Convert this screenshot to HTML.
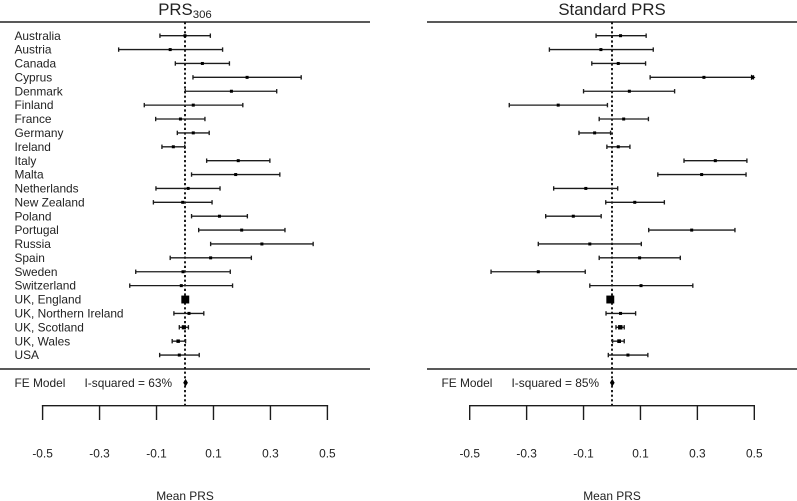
<!DOCTYPE html>
<html lang="en">
<head>
<meta charset="utf-8">
<title>Forest plots of mean PRS</title>
<style>
html,body{margin:0;padding:0;background:#fff;}
body{width:797px;height:501px;overflow:hidden;}
svg{display:block;filter:blur(0.3px);}
text{font-family:"Liberation Sans",sans-serif;fill:#222;}
</style>
</head>
<body>
<svg id="chart" width="797" height="501" viewBox="0 0 797 501" xmlns="http://www.w3.org/2000/svg">
  <rect width="797" height="501" fill="#fff"/>
</svg>
<script>
const countries = ["Australia","Austria","Canada","Cyprus","Denmark","Finland","France","Germany","Ireland","Italy","Malta","Netherlands","New Zealand","Poland","Portugal","Russia","Spain","Sweden","Switzerland","UK, England","UK, Northern Ireland","UK, Scotland","UK, Wales","USA"];
const tickValues = [-0.5,-0.3,-0.1,0.1,0.3,0.5];
const tickLabels = ["-0.5","-0.3","-0.1","0.1","0.3","0.5"];

const prs306Est = [0,-0.052,0.061,0.218,0.163,0.029,-0.016,0.029,-0.041,0.187,0.178,0.011,-0.008,0.121,0.199,0.27,0.09,-0.007,-0.013,0.001,0.014,-0.004,-0.024,-0.02];
const prs306Lo  = [-0.088,-0.233,-0.034,0.028,0.001,-0.143,-0.103,-0.027,-0.081,0.076,0.023,-0.102,-0.111,0.023,0.048,0.09,-0.052,-0.173,-0.194,-0.0035,-0.039,-0.02,-0.045,-0.089];
const prs306Hi  = [0.089,0.132,0.156,0.408,0.322,0.203,0.07,0.085,-0.001,0.298,0.333,0.123,0.095,0.219,0.351,0.45,0.233,0.159,0.167,0.0055,0.066,0.012,0.002,0.05];
const prs306Fe  = [0.002,-0.005,0.009];

const standardEst = [0.03,-0.039,0.022,0.323,0.061,-0.189,0.041,-0.061,0.022,0.363,0.315,-0.092,0.08,-0.136,0.28,-0.078,0.097,-0.259,0.102,-0.006,0.03,0.029,0.025,0.056];
const standardLo  = [-0.056,-0.22,-0.071,0.134,-0.1,-0.361,-0.045,-0.116,-0.018,0.253,0.161,-0.205,-0.022,-0.233,0.129,-0.259,-0.045,-0.425,-0.078,-0.0105,-0.021,0.014,0.002,-0.013];
const standardHi  = [0.12,0.145,0.118,0.497,0.22,-0.016,0.128,-0.005,0.063,0.474,0.471,0.02,0.184,-0.038,0.432,0.103,0.24,-0.094,0.284,-0.0015,0.083,0.043,0.043,0.126];
const standardFe  = [0.001,-0.006,0.008];

const NS = "http://www.w3.org/2000/svg";
const svg = document.getElementById("chart");

function mk(tag, attrs, parent, text) {
  const el = document.createElementNS(NS, tag);
  for (const k in attrs) el.setAttribute(k, attrs[k]);
  if (text !== undefined) el.textContent = text;
  parent.appendChild(el);
  return el;
}
function rowY(i) { return 35.7 + i * 13.885; }
const INK = "#1c1c1c";
const FONT = 11.9;

function drawPanel(cfg) {
  const g = mk("g", {}, svg);
  
  
  const x = v => cfg.x0 + v * cfg.scale;

  const rule1 = mk("line", {x1:cfg.ruleL,x2:cfg.ruleR,y1:22,y2:22,stroke:"#222","stroke-width":1.6}, g);
  
  
  const rule2 = mk("line", {x1:cfg.ruleL,x2:cfg.ruleR,y1:369,y2:369,stroke:"#222","stroke-width":1.6}, g);
  
  

  const ref = mk("line", {x1:x(0),x2:x(0),y1:22,y2:405.7,stroke:"#111","stroke-width":1.9,"stroke-dasharray":"2.2 2.4"}, g);
  
  

  countries.forEach((c, i) => {
    const y = rowY(i);
    if (cfg.showLabels) {
      const lab = mk("text", {x:14.5,y:y+4.1,"font-size":FONT}, g, c);
      
      
    }
    const lo = x(cfg.lo[i]), hi = x(cfg.hi[i]), est = x(cfg.est[i]);
    const ci = mk("line", {x1:lo,x2:hi,y1:y,y2:y,stroke:INK,"stroke-width":1.35}, g);
    
    
    [lo, hi].forEach(cx => {
      const cap = mk("line", {x1:cx,x2:cx,y1:y-2.2,y2:y+2.2,stroke:INK,"stroke-width":1.35}, g);
      
      
    });
    if (cfg.hi[i] >= 0.49) {
      const arrow = mk("polygon", {points:[[hi-2.5,y-2.8],[hi+2,y],[hi-2.5,y+2.8]].map(p=>p.join(",")).join(" "),fill:"#000"}, g);
      
      
    }
    const s = Math.min(8, Math.max(3, 0.75 / Math.sqrt(cfg.hi[i] - cfg.lo[i])));
    const m = mk("rect", {x:est-s/2,y:y-s/2,width:s,height:s,fill:"#000"}, g);
    
    
  });

  const feY = 382.7;
  const feLabel = mk("text", {x:cfg.feX,y:feY+4.1,"font-size":FONT}, g, "FE Model");
  
  
  const i2 = mk("text", {x:cfg.feX+70,y:feY+4.1,"font-size":FONT}, g, cfg.i2);
  
  
  const dia = mk("polygon", {points:[[x(cfg.fe[1]),feY],[x(cfg.fe[0]),feY-3.2],[x(cfg.fe[2]),feY],[x(cfg.fe[0]),feY+3.2]].map(p=>p.join(",")).join(" "),fill:"#000",stroke:"#000","stroke-width":0.6}, g);
  
  

  const axis = mk("line", {x1:x(tickValues[0])-0.7,x2:x(tickValues[tickValues.length-1])+0.7,y1:405.7,y2:405.7,stroke:INK,"stroke-width":1.4}, g);
  
  
  tickValues.forEach((v, i) => {
    const t = mk("line", {x1:x(v),x2:x(v),y1:405.2,y2:420,stroke:INK,"stroke-width":1.4}, g);
    
    
    const l = mk("text", {x:x(v),y:457.3,"font-size":FONT,"text-anchor":"middle"}, g, tickLabels[i]);
    
    
  });

  const xt = mk("text", {x:x(0),y:499.8,"font-size":FONT,"text-anchor":"middle"}, g, "Mean PRS");
  
  

  const title = mk("text", {x:cfg.titleX,y:14.8,"font-size":16.8,"text-anchor":"middle"}, g);
  
  
  mk("tspan", {}, title, cfg.title);
  if (cfg.sub) mk("tspan", {dy:3.2,"font-size":11.4}, title, cfg.sub);
}

drawPanel({name:"prs306-panel",x0:185,scale:284.8,ruleL:0,ruleR:370,showLabels:true,feX:14.5,
  titleX:185,title:"PRS",sub:"306",i2:"I-squared = 63%",est:prs306Est,lo:prs306Lo,hi:prs306Hi,fe:prs306Fe});
drawPanel({name:"standard-prs-panel",x0:612,scale:284.6,ruleL:427,ruleR:797,showLabels:false,feX:441.5,
  titleX:612,title:"Standard PRS",sub:"",i2:"I-squared = 85%",est:standardEst,lo:standardLo,hi:standardHi,fe:standardFe});
</script>
</body>
</html>
